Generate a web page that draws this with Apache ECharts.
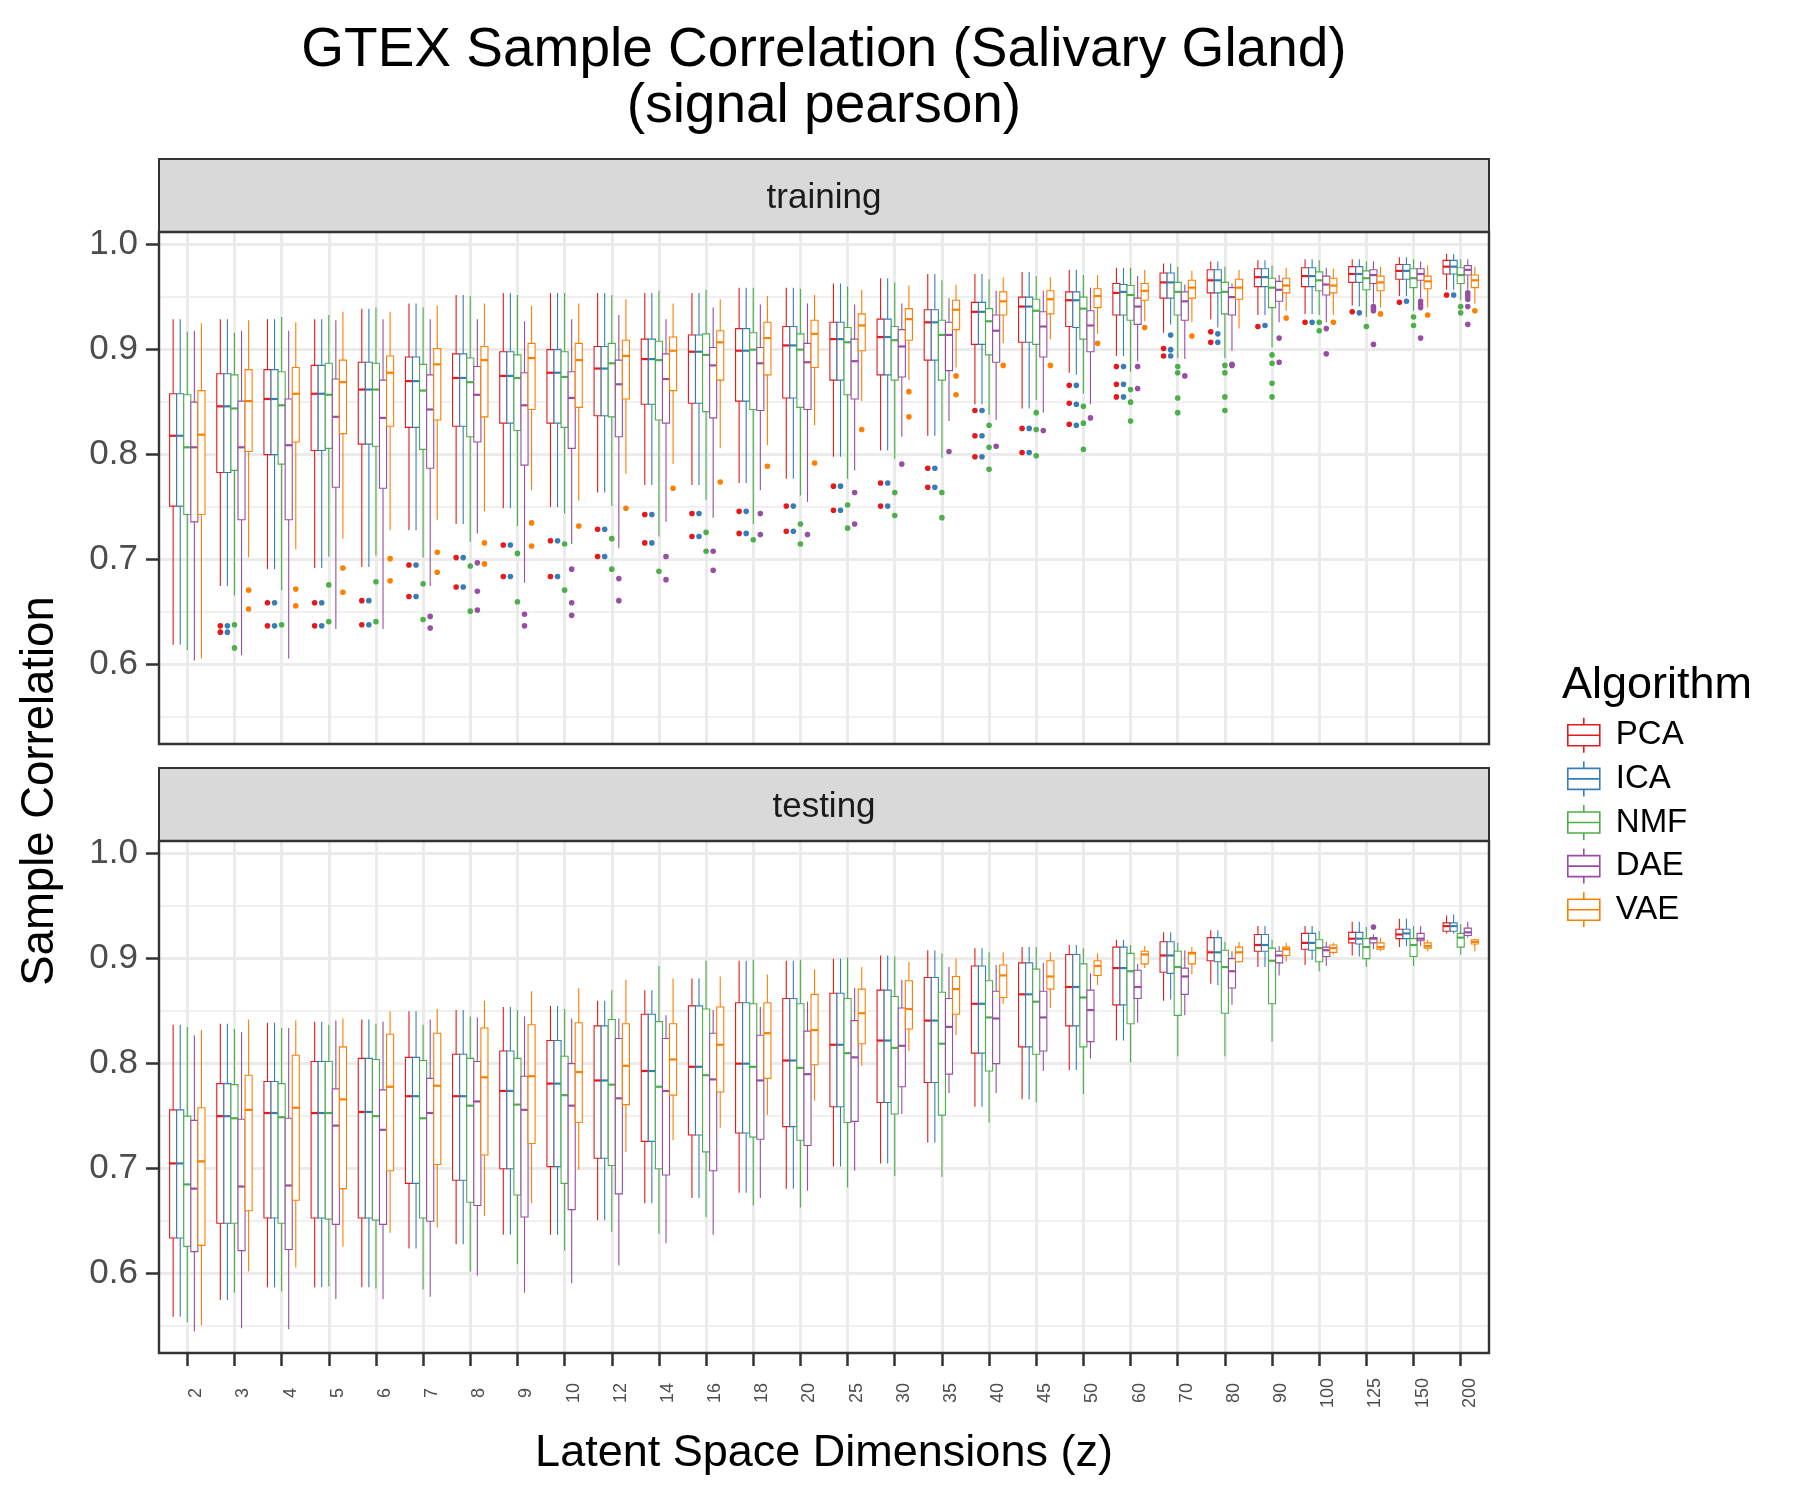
<!DOCTYPE html>
<html>
<head>
<meta charset="utf-8">
<title>GTEX Sample Correlation (Salivary Gland)</title>
<script src="https://cdn.jsdelivr.net/npm/echarts@6/dist/echarts.min.js"></script>
<style>
  html, body { margin: 0; padding: 0; background: #fff; }
  #chart { width: 1800px; height: 1500px; }
</style>
</head>
<body>
<div id="chart"></div>
<script>
// --- data ---
const categories = ['2', '3', '4', '5', '6', '7', '8', '9', '10', '12', '14', '16', '18', '20',
  '25', '30', '35', '40', '45', '50', '60', '70', '80', '90', '100', '125', '150', '200'];
const algorithms = ['PCA', 'ICA', 'NMF', 'DAE', 'VAE'];
const majorTicks = [0.6, 0.7, 0.8, 0.9, 1.0];
const minorTicks = [0.55, 0.65, 0.75, 0.85, 0.95];

// each row: [lower whisker, Q1, median, Q3, upper whisker], one row per category
const trainPCA = [
  [0.619, 0.751, 0.818, 0.858, 0.929], [0.675, 0.783, 0.846, 0.877, 0.929], [0.691, 0.800, 0.853, 0.881, 0.929],
  [0.692, 0.804, 0.858, 0.885, 0.929], [0.693, 0.810, 0.862, 0.888, 0.939], [0.728, 0.826, 0.870, 0.893, 0.944],
  [0.734, 0.827, 0.873, 0.896, 0.952], [0.749, 0.830, 0.875, 0.898, 0.954], [0.750, 0.830, 0.878, 0.900, 0.954],
  [0.764, 0.837, 0.882, 0.903, 0.954], [0.771, 0.848, 0.891, 0.910, 0.954], [0.771, 0.849, 0.898, 0.914, 0.954],
  [0.773, 0.851, 0.899, 0.920, 0.959], [0.777, 0.854, 0.904, 0.922, 0.959], [0.798, 0.871, 0.910, 0.926, 0.963],
  [0.804, 0.876, 0.912, 0.929, 0.968], [0.818, 0.890, 0.926, 0.938, 0.972], [0.848, 0.905, 0.936, 0.945, 0.972],
  [0.844, 0.907, 0.941, 0.950, 0.974], [0.878, 0.922, 0.947, 0.955, 0.976], [0.894, 0.933, 0.954, 0.963, 0.978],
  [0.916, 0.949, 0.964, 0.973, 0.982], [0.929, 0.954, 0.966, 0.976, 0.984], [0.933, 0.960, 0.969, 0.977, 0.985],
  [0.934, 0.960, 0.970, 0.978, 0.986], [0.942, 0.964, 0.972, 0.979, 0.986], [0.951, 0.967, 0.975, 0.981, 0.988],
  [0.957, 0.972, 0.979, 0.985, 0.991]
];
const trainICA = [
  [0.619, 0.751, 0.818, 0.858, 0.929], [0.675, 0.783, 0.846, 0.877, 0.929], [0.691, 0.800, 0.853, 0.881, 0.929],
  [0.692, 0.804, 0.858, 0.885, 0.929], [0.693, 0.810, 0.862, 0.888, 0.939], [0.728, 0.826, 0.870, 0.893, 0.944],
  [0.734, 0.827, 0.873, 0.896, 0.952], [0.749, 0.830, 0.875, 0.898, 0.954], [0.750, 0.830, 0.878, 0.900, 0.954],
  [0.764, 0.837, 0.882, 0.903, 0.954], [0.771, 0.848, 0.891, 0.910, 0.954], [0.771, 0.849, 0.898, 0.914, 0.954],
  [0.773, 0.851, 0.899, 0.920, 0.959], [0.777, 0.854, 0.904, 0.922, 0.959], [0.798, 0.871, 0.910, 0.926, 0.963],
  [0.804, 0.876, 0.912, 0.929, 0.968], [0.818, 0.890, 0.926, 0.938, 0.972], [0.848, 0.905, 0.936, 0.945, 0.972],
  [0.844, 0.907, 0.941, 0.950, 0.974], [0.876, 0.921, 0.947, 0.955, 0.976], [0.894, 0.933, 0.955, 0.962, 0.978],
  [0.924, 0.949, 0.964, 0.973, 0.982], [0.921, 0.954, 0.966, 0.976, 0.984], [0.933, 0.960, 0.969, 0.977, 0.985],
  [0.934, 0.960, 0.970, 0.978, 0.986], [0.941, 0.964, 0.972, 0.979, 0.986], [0.951, 0.967, 0.975, 0.981, 0.988],
  [0.957, 0.972, 0.979, 0.985, 0.991]
];
const trainNMF = [
  [0.614, 0.743, 0.807, 0.857, 0.917], [0.666, 0.785, 0.844, 0.876, 0.916], [0.671, 0.791, 0.847, 0.879, 0.931],
  [0.703, 0.806, 0.857, 0.887, 0.933], [0.704, 0.808, 0.862, 0.887, 0.940], [0.702, 0.805, 0.861, 0.886, 0.940],
  [0.717, 0.817, 0.869, 0.892, 0.951], [0.732, 0.823, 0.873, 0.895, 0.952], [0.744, 0.826, 0.874, 0.898, 0.954],
  [0.751, 0.836, 0.887, 0.906, 0.952], [0.722, 0.833, 0.890, 0.908, 0.956], [0.757, 0.841, 0.895, 0.915, 0.957],
  [0.734, 0.843, 0.900, 0.916, 0.959], [0.761, 0.845, 0.900, 0.915, 0.958], [0.777, 0.857, 0.907, 0.921, 0.960],
  [0.796, 0.871, 0.909, 0.922, 0.964], [0.797, 0.871, 0.914, 0.928, 0.966], [0.838, 0.895, 0.927, 0.939, 0.967],
  [0.852, 0.905, 0.937, 0.948, 0.970], [0.858, 0.910, 0.939, 0.950, 0.971], [0.879, 0.928, 0.952, 0.961, 0.978],
  [0.892, 0.933, 0.955, 0.964, 0.979], [0.892, 0.934, 0.955, 0.964, 0.979], [0.902, 0.940, 0.959, 0.968, 0.980],
  [0.933, 0.956, 0.966, 0.974, 0.985], [0.931, 0.957, 0.968, 0.975, 0.984], [0.937, 0.959, 0.968, 0.977, 0.986],
  [0.947, 0.963, 0.971, 0.978, 0.986]
];
const trainDAE = [
  [0.604, 0.736, 0.807, 0.850, 0.918], [0.609, 0.738, 0.807, 0.851, 0.918], [0.606, 0.738, 0.809, 0.853, 0.918],
  [0.634, 0.769, 0.836, 0.872, 0.928], [0.634, 0.768, 0.835, 0.871, 0.929], [0.675, 0.787, 0.843, 0.876, 0.929],
  [0.725, 0.812, 0.857, 0.884, 0.929], [0.678, 0.790, 0.847, 0.878, 0.927], [0.715, 0.806, 0.854, 0.879, 0.929],
  [0.711, 0.817, 0.867, 0.890, 0.933], [0.736, 0.830, 0.872, 0.896, 0.929], [0.740, 0.835, 0.885, 0.902, 0.940],
  [0.766, 0.842, 0.887, 0.902, 0.943], [0.755, 0.843, 0.888, 0.906, 0.944], [0.785, 0.853, 0.889, 0.910, 0.943],
  [0.817, 0.874, 0.903, 0.919, 0.944], [0.832, 0.880, 0.914, 0.926, 0.949], [0.833, 0.888, 0.918, 0.933, 0.956],
  [0.840, 0.893, 0.922, 0.936, 0.956], [0.848, 0.898, 0.923, 0.937, 0.959], [0.889, 0.924, 0.941, 0.949, 0.970],
  [0.891, 0.928, 0.946, 0.955, 0.962], [0.899, 0.933, 0.950, 0.959, 0.963], [0.926, 0.946, 0.957, 0.965, 0.971],
  [0.926, 0.952, 0.962, 0.970, 0.978], [0.944, 0.963, 0.971, 0.976, 0.984], [0.949, 0.966, 0.972, 0.977, 0.984],
  [0.957, 0.971, 0.976, 0.980, 0.986]
];
const trainVAE = [
  [0.606, 0.743, 0.819, 0.861, 0.925], [0.702, 0.803, 0.851, 0.881, 0.928], [0.710, 0.812, 0.858, 0.883, 0.926],
  [0.720, 0.820, 0.869, 0.890, 0.936], [0.728, 0.827, 0.878, 0.894, 0.936], [0.738, 0.833, 0.886, 0.901, 0.942],
  [0.746, 0.836, 0.890, 0.903, 0.944], [0.766, 0.843, 0.892, 0.906, 0.942], [0.756, 0.845, 0.890, 0.906, 0.944],
  [0.782, 0.853, 0.894, 0.909, 0.948], [0.791, 0.861, 0.899, 0.912, 0.944], [0.806, 0.871, 0.907, 0.918, 0.948],
  [0.809, 0.876, 0.911, 0.926, 0.951], [0.828, 0.883, 0.915, 0.928, 0.952], [0.851, 0.899, 0.923, 0.934, 0.957],
  [0.871, 0.909, 0.929, 0.939, 0.961], [0.883, 0.919, 0.938, 0.947, 0.962], [0.906, 0.933, 0.946, 0.955, 0.969],
  [0.910, 0.934, 0.948, 0.956, 0.969], [0.915, 0.940, 0.951, 0.958, 0.971], [0.927, 0.947, 0.956, 0.963, 0.976],
  [0.926, 0.949, 0.959, 0.966, 0.975], [0.920, 0.948, 0.959, 0.967, 0.976], [0.937, 0.954, 0.961, 0.968, 0.978],
  [0.933, 0.954, 0.961, 0.968, 0.977], [0.940, 0.956, 0.964, 0.970, 0.979], [0.940, 0.958, 0.965, 0.970, 0.980],
  [0.944, 0.959, 0.966, 0.971, 0.979]
];

const testPCA = [
  [0.559, 0.634, 0.705, 0.756, 0.837], [0.575, 0.648, 0.750, 0.781, 0.838], [0.587, 0.653, 0.753, 0.783, 0.839],
  [0.587, 0.653, 0.753, 0.802, 0.840], [0.587, 0.653, 0.754, 0.805, 0.842], [0.624, 0.686, 0.769, 0.806, 0.850],
  [0.628, 0.689, 0.769, 0.809, 0.851], [0.637, 0.700, 0.774, 0.812, 0.854], [0.637, 0.702, 0.781, 0.822, 0.855],
  [0.651, 0.710, 0.784, 0.836, 0.860], [0.667, 0.726, 0.793, 0.847, 0.870], [0.672, 0.732, 0.797, 0.855, 0.881],
  [0.677, 0.734, 0.800, 0.858, 0.898], [0.681, 0.740, 0.803, 0.862, 0.898], [0.702, 0.759, 0.818, 0.867, 0.900],
  [0.705, 0.763, 0.822, 0.870, 0.903], [0.725, 0.782, 0.841, 0.882, 0.908], [0.759, 0.810, 0.857, 0.893, 0.910],
  [0.766, 0.816, 0.866, 0.896, 0.911], [0.794, 0.836, 0.873, 0.904, 0.913], [0.822, 0.856, 0.891, 0.911, 0.918],
  [0.860, 0.887, 0.903, 0.916, 0.925], [0.876, 0.898, 0.906, 0.920, 0.927], [0.892, 0.907, 0.913, 0.923, 0.931],
  [0.894, 0.909, 0.915, 0.924, 0.931], [0.903, 0.915, 0.919, 0.925, 0.935], [0.911, 0.919, 0.923, 0.928, 0.938],
  [0.924, 0.926, 0.931, 0.934, 0.941]
];
const testICA = [
  [0.559, 0.634, 0.705, 0.756, 0.837], [0.575, 0.648, 0.750, 0.781, 0.838], [0.587, 0.653, 0.753, 0.783, 0.839],
  [0.587, 0.653, 0.753, 0.802, 0.840], [0.587, 0.653, 0.754, 0.805, 0.842], [0.624, 0.686, 0.769, 0.806, 0.850],
  [0.628, 0.689, 0.769, 0.809, 0.851], [0.637, 0.700, 0.774, 0.812, 0.854], [0.637, 0.702, 0.781, 0.822, 0.855],
  [0.651, 0.710, 0.784, 0.836, 0.860], [0.667, 0.726, 0.793, 0.847, 0.870], [0.672, 0.732, 0.797, 0.855, 0.881],
  [0.677, 0.734, 0.800, 0.858, 0.898], [0.681, 0.740, 0.803, 0.862, 0.898], [0.702, 0.759, 0.818, 0.867, 0.900],
  [0.705, 0.763, 0.822, 0.870, 0.903], [0.725, 0.782, 0.841, 0.882, 0.908], [0.759, 0.810, 0.857, 0.893, 0.910],
  [0.766, 0.816, 0.866, 0.896, 0.911], [0.794, 0.836, 0.873, 0.904, 0.913], [0.822, 0.856, 0.891, 0.911, 0.918],
  [0.861, 0.886, 0.903, 0.916, 0.925], [0.875, 0.897, 0.906, 0.920, 0.927], [0.892, 0.907, 0.913, 0.923, 0.931],
  [0.899, 0.908, 0.915, 0.924, 0.931], [0.902, 0.914, 0.919, 0.925, 0.935], [0.912, 0.919, 0.924, 0.928, 0.938],
  [0.924, 0.926, 0.931, 0.934, 0.942]
];
const testNMF = [
  [0.554, 0.626, 0.685, 0.750, 0.835], [0.582, 0.648, 0.748, 0.780, 0.833], [0.583, 0.648, 0.749, 0.781, 0.834],
  [0.588, 0.652, 0.753, 0.802, 0.837], [0.586, 0.651, 0.750, 0.804, 0.838], [0.585, 0.653, 0.748, 0.803, 0.837],
  [0.602, 0.668, 0.760, 0.805, 0.845], [0.609, 0.675, 0.761, 0.805, 0.851], [0.622, 0.686, 0.770, 0.807, 0.852],
  [0.640, 0.703, 0.780, 0.842, 0.870], [0.638, 0.700, 0.778, 0.840, 0.893], [0.654, 0.716, 0.789, 0.852, 0.898],
  [0.665, 0.730, 0.797, 0.857, 0.899], [0.663, 0.727, 0.796, 0.857, 0.899], [0.682, 0.744, 0.810, 0.862, 0.901],
  [0.693, 0.752, 0.815, 0.864, 0.902], [0.692, 0.751, 0.819, 0.868, 0.905], [0.744, 0.793, 0.844, 0.879, 0.906],
  [0.763, 0.809, 0.859, 0.890, 0.911], [0.771, 0.816, 0.863, 0.895, 0.910], [0.801, 0.838, 0.888, 0.905, 0.913],
  [0.807, 0.846, 0.892, 0.907, 0.915], [0.807, 0.848, 0.892, 0.908, 0.916], [0.821, 0.857, 0.898, 0.910, 0.918],
  [0.888, 0.897, 0.910, 0.918, 0.926], [0.892, 0.900, 0.911, 0.919, 0.930], [0.893, 0.902, 0.913, 0.919, 0.931],
  [0.904, 0.911, 0.920, 0.924, 0.933]
];
const testDAE = [
  [0.545, 0.621, 0.681, 0.746, 0.827], [0.548, 0.622, 0.683, 0.747, 0.830], [0.547, 0.623, 0.684, 0.748, 0.834],
  [0.576, 0.647, 0.741, 0.776, 0.841], [0.576, 0.647, 0.737, 0.775, 0.840], [0.578, 0.650, 0.753, 0.786, 0.842],
  [0.598, 0.665, 0.764, 0.802, 0.844], [0.582, 0.654, 0.756, 0.788, 0.845], [0.591, 0.661, 0.760, 0.800, 0.843],
  [0.608, 0.676, 0.767, 0.824, 0.843], [0.629, 0.694, 0.774, 0.824, 0.846], [0.637, 0.698, 0.785, 0.829, 0.851],
  [0.672, 0.728, 0.784, 0.827, 0.854], [0.679, 0.722, 0.790, 0.831, 0.859], [0.698, 0.745, 0.806, 0.841, 0.872],
  [0.752, 0.778, 0.817, 0.853, 0.880], [0.772, 0.790, 0.835, 0.862, 0.892], [0.772, 0.800, 0.843, 0.869, 0.894],
  [0.793, 0.812, 0.844, 0.869, 0.896], [0.805, 0.821, 0.851, 0.870, 0.886], [0.839, 0.862, 0.873, 0.889, 0.895],
  [0.846, 0.866, 0.883, 0.891, 0.908], [0.856, 0.872, 0.888, 0.900, 0.907], [0.884, 0.896, 0.903, 0.907, 0.912],
  [0.893, 0.902, 0.908, 0.911, 0.916], [0.909, 0.915, 0.919, 0.920, 0.923], [0.912, 0.917, 0.919, 0.924, 0.931],
  [0.920, 0.922, 0.925, 0.929, 0.935]
];
const testVAE = [
  [0.551, 0.627, 0.707, 0.758, 0.832], [0.602, 0.660, 0.756, 0.789, 0.842], [0.606, 0.670, 0.758, 0.808, 0.841],
  [0.626, 0.681, 0.766, 0.816, 0.843], [0.639, 0.698, 0.778, 0.828, 0.850], [0.644, 0.704, 0.779, 0.829, 0.852],
  [0.655, 0.713, 0.787, 0.834, 0.860], [0.667, 0.724, 0.788, 0.837, 0.869], [0.699, 0.744, 0.792, 0.839, 0.872],
  [0.716, 0.761, 0.798, 0.838, 0.880], [0.727, 0.770, 0.804, 0.838, 0.881], [0.739, 0.773, 0.818, 0.854, 0.883],
  [0.751, 0.786, 0.829, 0.858, 0.885], [0.765, 0.799, 0.832, 0.866, 0.890], [0.798, 0.819, 0.848, 0.871, 0.892],
  [0.812, 0.833, 0.852, 0.879, 0.897], [0.827, 0.847, 0.871, 0.883, 0.900], [0.857, 0.863, 0.884, 0.894, 0.906],
  [0.853, 0.871, 0.883, 0.898, 0.906], [0.875, 0.884, 0.893, 0.898, 0.905], [0.891, 0.895, 0.904, 0.907, 0.912],
  [0.885, 0.895, 0.905, 0.906, 0.911], [0.896, 0.897, 0.906, 0.911, 0.916], [0.897, 0.903, 0.909, 0.911, 0.915],
  [0.904, 0.906, 0.910, 0.913, 0.915], [0.907, 0.909, 0.911, 0.915, 0.920], [0.907, 0.910, 0.912, 0.915, 0.918],
  [0.907, 0.914, 0.916, 0.918, 0.919]
];

// outliers: [category, value]
const trainOutPCA = [
  ['3', 0.637], ['3', 0.631], ['4', 0.659], ['4', 0.637], ['5', 0.659], ['5', 0.637], ['6', 0.661], ['6', 0.638],
  ['7', 0.695], ['7', 0.665], ['8', 0.702], ['8', 0.674], ['9', 0.714], ['9', 0.684], ['10', 0.718], ['10', 0.684],
  ['12', 0.729], ['12', 0.703], ['14', 0.743], ['14', 0.716], ['16', 0.744], ['16', 0.722], ['18', 0.746], ['18', 0.725],
  ['20', 0.751], ['20', 0.727], ['25', 0.770], ['25', 0.747], ['30', 0.773], ['30', 0.751], ['35', 0.787], ['35', 0.769],
  ['40', 0.842], ['40', 0.818], ['40', 0.798], ['45', 0.825], ['45', 0.802], ['50', 0.866], ['50', 0.849], ['50', 0.829],
  ['60', 0.884], ['60', 0.867], ['60', 0.855], ['70', 0.901], ['70', 0.894], ['80', 0.917], ['80', 0.907],
  ['90', 0.922], ['100', 0.926], ['125', 0.936], ['150', 0.945], ['200', 0.952]
];
const trainOutICA = [
  ['3', 0.637], ['3', 0.631], ['4', 0.659], ['4', 0.637], ['5', 0.659], ['5', 0.637], ['6', 0.661], ['6', 0.638],
  ['7', 0.695], ['7', 0.665], ['8', 0.702], ['8', 0.674], ['9', 0.714], ['9', 0.684], ['10', 0.718], ['10', 0.684],
  ['12', 0.729], ['12', 0.703], ['14', 0.743], ['14', 0.716], ['16', 0.744], ['16', 0.722], ['18', 0.746], ['18', 0.725],
  ['20', 0.751], ['20', 0.727], ['25', 0.770], ['25', 0.747], ['30', 0.773], ['30', 0.751], ['35', 0.787], ['35', 0.769],
  ['40', 0.842], ['40', 0.818], ['40', 0.798], ['45', 0.825], ['45', 0.802], ['50', 0.866], ['50', 0.848], ['50', 0.828],
  ['60', 0.884], ['60', 0.867], ['60', 0.855], ['70', 0.914], ['70', 0.900], ['70', 0.894], ['80', 0.915], ['80', 0.907],
  ['90', 0.923], ['100', 0.926], ['125', 0.935], ['150', 0.946], ['200', 0.952]
];
const trainOutNMF = [
  ['3', 0.638], ['3', 0.616], ['4', 0.638], ['5', 0.676], ['5', 0.641], ['6', 0.679], ['6', 0.641],
  ['7', 0.677], ['7', 0.643], ['8', 0.694], ['8', 0.651], ['9', 0.706], ['9', 0.660], ['10', 0.715], ['10', 0.671],
  ['12', 0.720], ['12', 0.691], ['14', 0.689], ['16', 0.726], ['16', 0.708], ['18', 0.719], ['20', 0.734], ['20', 0.715],
  ['25', 0.752], ['25', 0.730], ['30', 0.764], ['30', 0.742], ['35', 0.764], ['35', 0.740],
  ['40', 0.828], ['40', 0.807], ['40', 0.786], ['45', 0.840], ['45', 0.824], ['45', 0.799], ['50', 0.846], ['50', 0.830], ['50', 0.805],
  ['60', 0.862], ['60', 0.850], ['60', 0.832], ['70', 0.884], ['70', 0.878], ['70', 0.854], ['70', 0.840],
  ['80', 0.885], ['80', 0.878], ['80', 0.855], ['80', 0.842], ['90', 0.895], ['90', 0.887], ['90', 0.868], ['90', 0.855],
  ['100', 0.926], ['100', 0.918], ['125', 0.922], ['150', 0.931], ['150', 0.923], ['200', 0.941], ['200', 0.935]
];
const trainOutDAE = [
  ['7', 0.646], ['7', 0.635], ['8', 0.697], ['8', 0.670], ['8', 0.652], ['9', 0.648], ['9', 0.637],
  ['10', 0.691], ['10', 0.659], ['10', 0.647], ['12', 0.682], ['12', 0.661], ['14', 0.703], ['14', 0.681],
  ['16', 0.708], ['16', 0.690], ['18', 0.744], ['18', 0.724], ['20', 0.724], ['25', 0.764], ['25', 0.734],
  ['30', 0.791], ['35', 0.803], ['40', 0.808], ['45', 0.823], ['50', 0.835], ['60', 0.884], ['60', 0.863],
  ['70', 0.875], ['80', 0.886], ['80', 0.885], ['90', 0.911], ['90', 0.888], ['100', 0.920], ['100', 0.896],
  ['125', 0.941], ['125', 0.939], ['125', 0.937], ['125', 0.905], ['150', 0.946], ['150', 0.943], ['150', 0.940], ['150', 0.911],
  ['200', 0.954], ['200', 0.951], ['200', 0.948], ['200', 0.941], ['200', 0.924]
];
const trainOutVAE = [
  ['3', 0.671], ['3', 0.653], ['4', 0.672], ['4', 0.656], ['5', 0.692], ['5', 0.669], ['6', 0.701], ['6', 0.680],
  ['7', 0.707], ['7', 0.688], ['8', 0.716], ['8', 0.696], ['9', 0.735], ['9', 0.713], ['10', 0.732], ['12', 0.749],
  ['14', 0.768], ['16', 0.774], ['18', 0.789], ['20', 0.792], ['25', 0.824], ['30', 0.860], ['30', 0.836],
  ['35', 0.875], ['35', 0.857], ['40', 0.885], ['45', 0.885], ['50', 0.906], ['60', 0.921], ['70', 0.913],
  ['90', 0.930], ['100', 0.926], ['125', 0.934], ['150', 0.933], ['200', 0.937]
];
const testOutDAE = [['125', 0.930]];

// --- layout ---
const colors = ['#E41A1C', '#377EB8', '#4DAF4A', '#984EA3', '#FF7F00'];
const FONT = 'Liberation Sans, Arial, Helvetica, sans-serif';
const yMin = 0.5245, yMax = 1.012;
const panelLeft = 159, panelRight = 1489, panelH = 512, stripH = 73;
const unit = (panelRight - panelLeft) / (categories.length - 1 + 1.2);  // ggplot discrete expansion 0.6
const dataLeft = panelLeft + 0.6 * unit;
const dataWidth = (categories.length - 1) * unit;

const panels = [
  { label: 'training', top: 232, boxes: [trainPCA, trainICA, trainNMF, trainDAE, trainVAE],
    outliers: [trainOutPCA, trainOutICA, trainOutNMF, trainOutDAE, trainOutVAE] },
  { label: 'testing', top: 841, boxes: [testPCA, testICA, testNMF, testDAE, testVAE],
    outliers: [[], [], [], testOutDAE, []] }
];

function slotWidth(api) {
  return api.size([1, 0])[0] * 0.75 / algorithms.length;
}

function boxRenderer(a) {
  return function (params, api) {
    const x = api.value(0);
    const w = slotWidth(api);
    const cx = api.coord([x, yMin])[0] + (a - 2) * w;
    const lo = api.coord([x, api.value(1)])[1];
    const q1 = api.coord([x, api.value(2)])[1];
    const md = api.coord([x, api.value(3)])[1];
    const q3 = api.coord([x, api.value(4)])[1];
    const hi = api.coord([x, api.value(5)])[1];
    const c = colors[a];
    return {
      type: 'group',
      children: [
        { type: 'line', shape: { x1: cx, y1: hi, x2: cx, y2: q3 }, style: { stroke: c, lineWidth: 1.1 } },
        { type: 'line', shape: { x1: cx, y1: q1, x2: cx, y2: lo }, style: { stroke: c, lineWidth: 1.1 } },
        { type: 'rect', shape: { x: cx - w / 2, y: q3, width: w, height: q1 - q3 },
          style: { fill: '#fff', stroke: c, lineWidth: 1.1 } },
        { type: 'line', shape: { x1: cx - w / 2, y1: md, x2: cx + w / 2, y2: md }, style: { stroke: c, lineWidth: 2.2 } }
      ]
    };
  };
}

function dotRenderer(a) {
  return function (params, api) {
    const x = api.value(0);
    const w = slotWidth(api);
    const p = api.coord([x, api.value(1)]);
    return { type: 'circle', shape: { cx: p[0] + (a - 2) * w, cy: p[1], r: 2.8 }, style: { fill: colors[a] } };
  };
}

const grid = [], xAxis = [], yAxis = [], series = [], graphics = [];

panels.forEach(function (p, pi) {
  const isBottom = pi === panels.length - 1;
  // background grid: frame width, horizontal grid lines and y labels
  grid.push({ left: panelLeft, top: p.top, width: panelRight - panelLeft, height: panelH });
  // data grid: from first to last category centre
  grid.push({ left: dataLeft, top: p.top, width: dataWidth, height: panelH });
  const bg = pi * 2, dg = pi * 2 + 1;

  xAxis.push({ gridIndex: bg, type: 'value', min: 0, max: 1, show: false });
  xAxis.push({
    gridIndex: dg, type: 'category', data: categories, boundaryGap: false,
    axisLine: { show: false },
    axisTick: { show: isBottom, interval: 0, length: 13, lineStyle: { color: '#333', width: 2.5 } },
    axisLabel: {
      show: isBottom, interval: 0, rotate: 90, align: 'center', verticalAlign: 'top', margin: 40,
      fontSize: 18, color: '#4D4D4D', fontFamily: FONT
    },
    splitLine: { show: true, interval: 0, lineStyle: { color: '#EBEBEB', width: 3 } }
  });

  yAxis.push({
    gridIndex: bg, type: 'value', min: yMin, max: yMax, position: 'left',
    axisLine: { show: false },
    axisTick: { show: true, customValues: majorTicks, length: 13, lineStyle: { color: '#333', width: 2.5 } },
    axisLabel: {
      show: true, customValues: majorTicks, margin: 21, fontSize: 35, color: '#4D4D4D', fontFamily: FONT,
      formatter: function (v) { return v.toFixed(1); }
    },
    splitLine: { show: true, lineStyle: { color: '#EBEBEB', width: 3.2 } }
  });
  yAxis.push({
    gridIndex: bg, type: 'value', min: yMin, max: yMax, position: 'right',
    axisLine: { show: false },
    axisTick: { show: false, customValues: minorTicks },
    axisLabel: { show: false },
    splitLine: { show: true, lineStyle: { color: '#EBEBEB', width: 1.6 } }
  });
  yAxis.push({ gridIndex: dg, type: 'value', min: yMin, max: yMax, show: false });

  const xi = pi * 2 + 1, yi = pi * 3 + 2;
  algorithms.forEach(function (alg, a) {
    series.push({
      type: 'custom', name: alg, xAxisIndex: xi, yAxisIndex: yi,
      itemStyle: { color: colors[a] },
      renderItem: boxRenderer(a),
      encode: { x: 0, y: [1, 2, 3, 4, 5] },
      data: p.boxes[a].map(function (r, i) { return [i].concat(r); }),
      silent: true
    });
    if (p.outliers[a].length) {
      series.push({
        type: 'custom', name: alg, xAxisIndex: xi, yAxisIndex: yi,
        itemStyle: { color: colors[a] },
        renderItem: dotRenderer(a),
        encode: { x: 0, y: 1 },
        data: p.outliers[a].map(function (o) { return [categories.indexOf(o[0]), o[1]]; }),
        silent: true
      });
    }
  });

  // strip and frame
  graphics.push({
    type: 'rect', z: 100, silent: true,
    shape: { x: panelLeft, y: p.top - stripH, width: panelRight - panelLeft, height: stripH },
    style: { fill: '#D9D9D9', stroke: '#333', lineWidth: 2 }
  });
  graphics.push({
    type: 'text', z: 101, silent: true, x: (panelLeft + panelRight) / 2, y: p.top - stripH / 2 + 3,
    style: { text: p.label, fontSize: 35, fontFamily: FONT, fill: '#1A1A1A', align: 'center', verticalAlign: 'middle' }
  });
  graphics.push({
    type: 'rect', z: 100, silent: true,
    shape: { x: panelLeft, y: p.top, width: panelRight - panelLeft, height: panelH },
    style: { fill: 'none', stroke: '#333', lineWidth: 2.4 }
  });
});

graphics.push({
  type: 'text', silent: true, x: (panelLeft + panelRight) / 2, y: 1454,
  style: { text: 'Latent Space Dimensions (z)', fontSize: 45, fontFamily: FONT, fill: '#000', align: 'center', verticalAlign: 'middle' }
});
graphics.push({
  type: 'text', silent: true, x: 40, y: 791, rotation: Math.PI / 2,
  style: { text: 'Sample Correlation', fontSize: 45.5, fontFamily: FONT, fill: '#000', align: 'center', verticalAlign: 'middle' }
});

const boxIcon = 'path://M16,0V7M0,7H32V28H0ZM0,17.5H32M16,28V35';

const chart = echarts.init(document.getElementById('chart'), null, { renderer: 'canvas' });
chart.setOption({
  animation: false,
  backgroundColor: '#fff',
  title: [
    {
      text: 'GTEX Sample Correlation (Salivary Gland)\n(signal pearson)',
      left: (panelLeft + panelRight) / 2, top: 23, textAlign: 'center', padding: 0,
      textStyle: { fontSize: 55, fontWeight: 'normal', color: '#000', fontFamily: FONT, lineHeight: 56 }
    },
    {
      text: 'Algorithm', left: 1562, top: 663, padding: 0,
      textStyle: { fontSize: 45, fontWeight: 'normal', color: '#000', fontFamily: FONT }
    }
  ],
  legend: {
    orient: 'vertical', left: 1567, top: 717, padding: 0,
    itemWidth: 32, itemHeight: 35, itemGap: 7, selectedMode: false,
    textStyle: { fontSize: 33, color: '#000', fontFamily: FONT, padding: [0, 0, 0, 11] },
    data: algorithms.map(function (alg, a) {
      return { name: alg, icon: boxIcon, itemStyle: { color: '#fff', borderColor: colors[a], borderWidth: 1.6 } };
    })
  },
  grid: grid,
  xAxis: xAxis,
  yAxis: yAxis,
  series: series,
  graphic: graphics
});
</script>
</body>
</html>
